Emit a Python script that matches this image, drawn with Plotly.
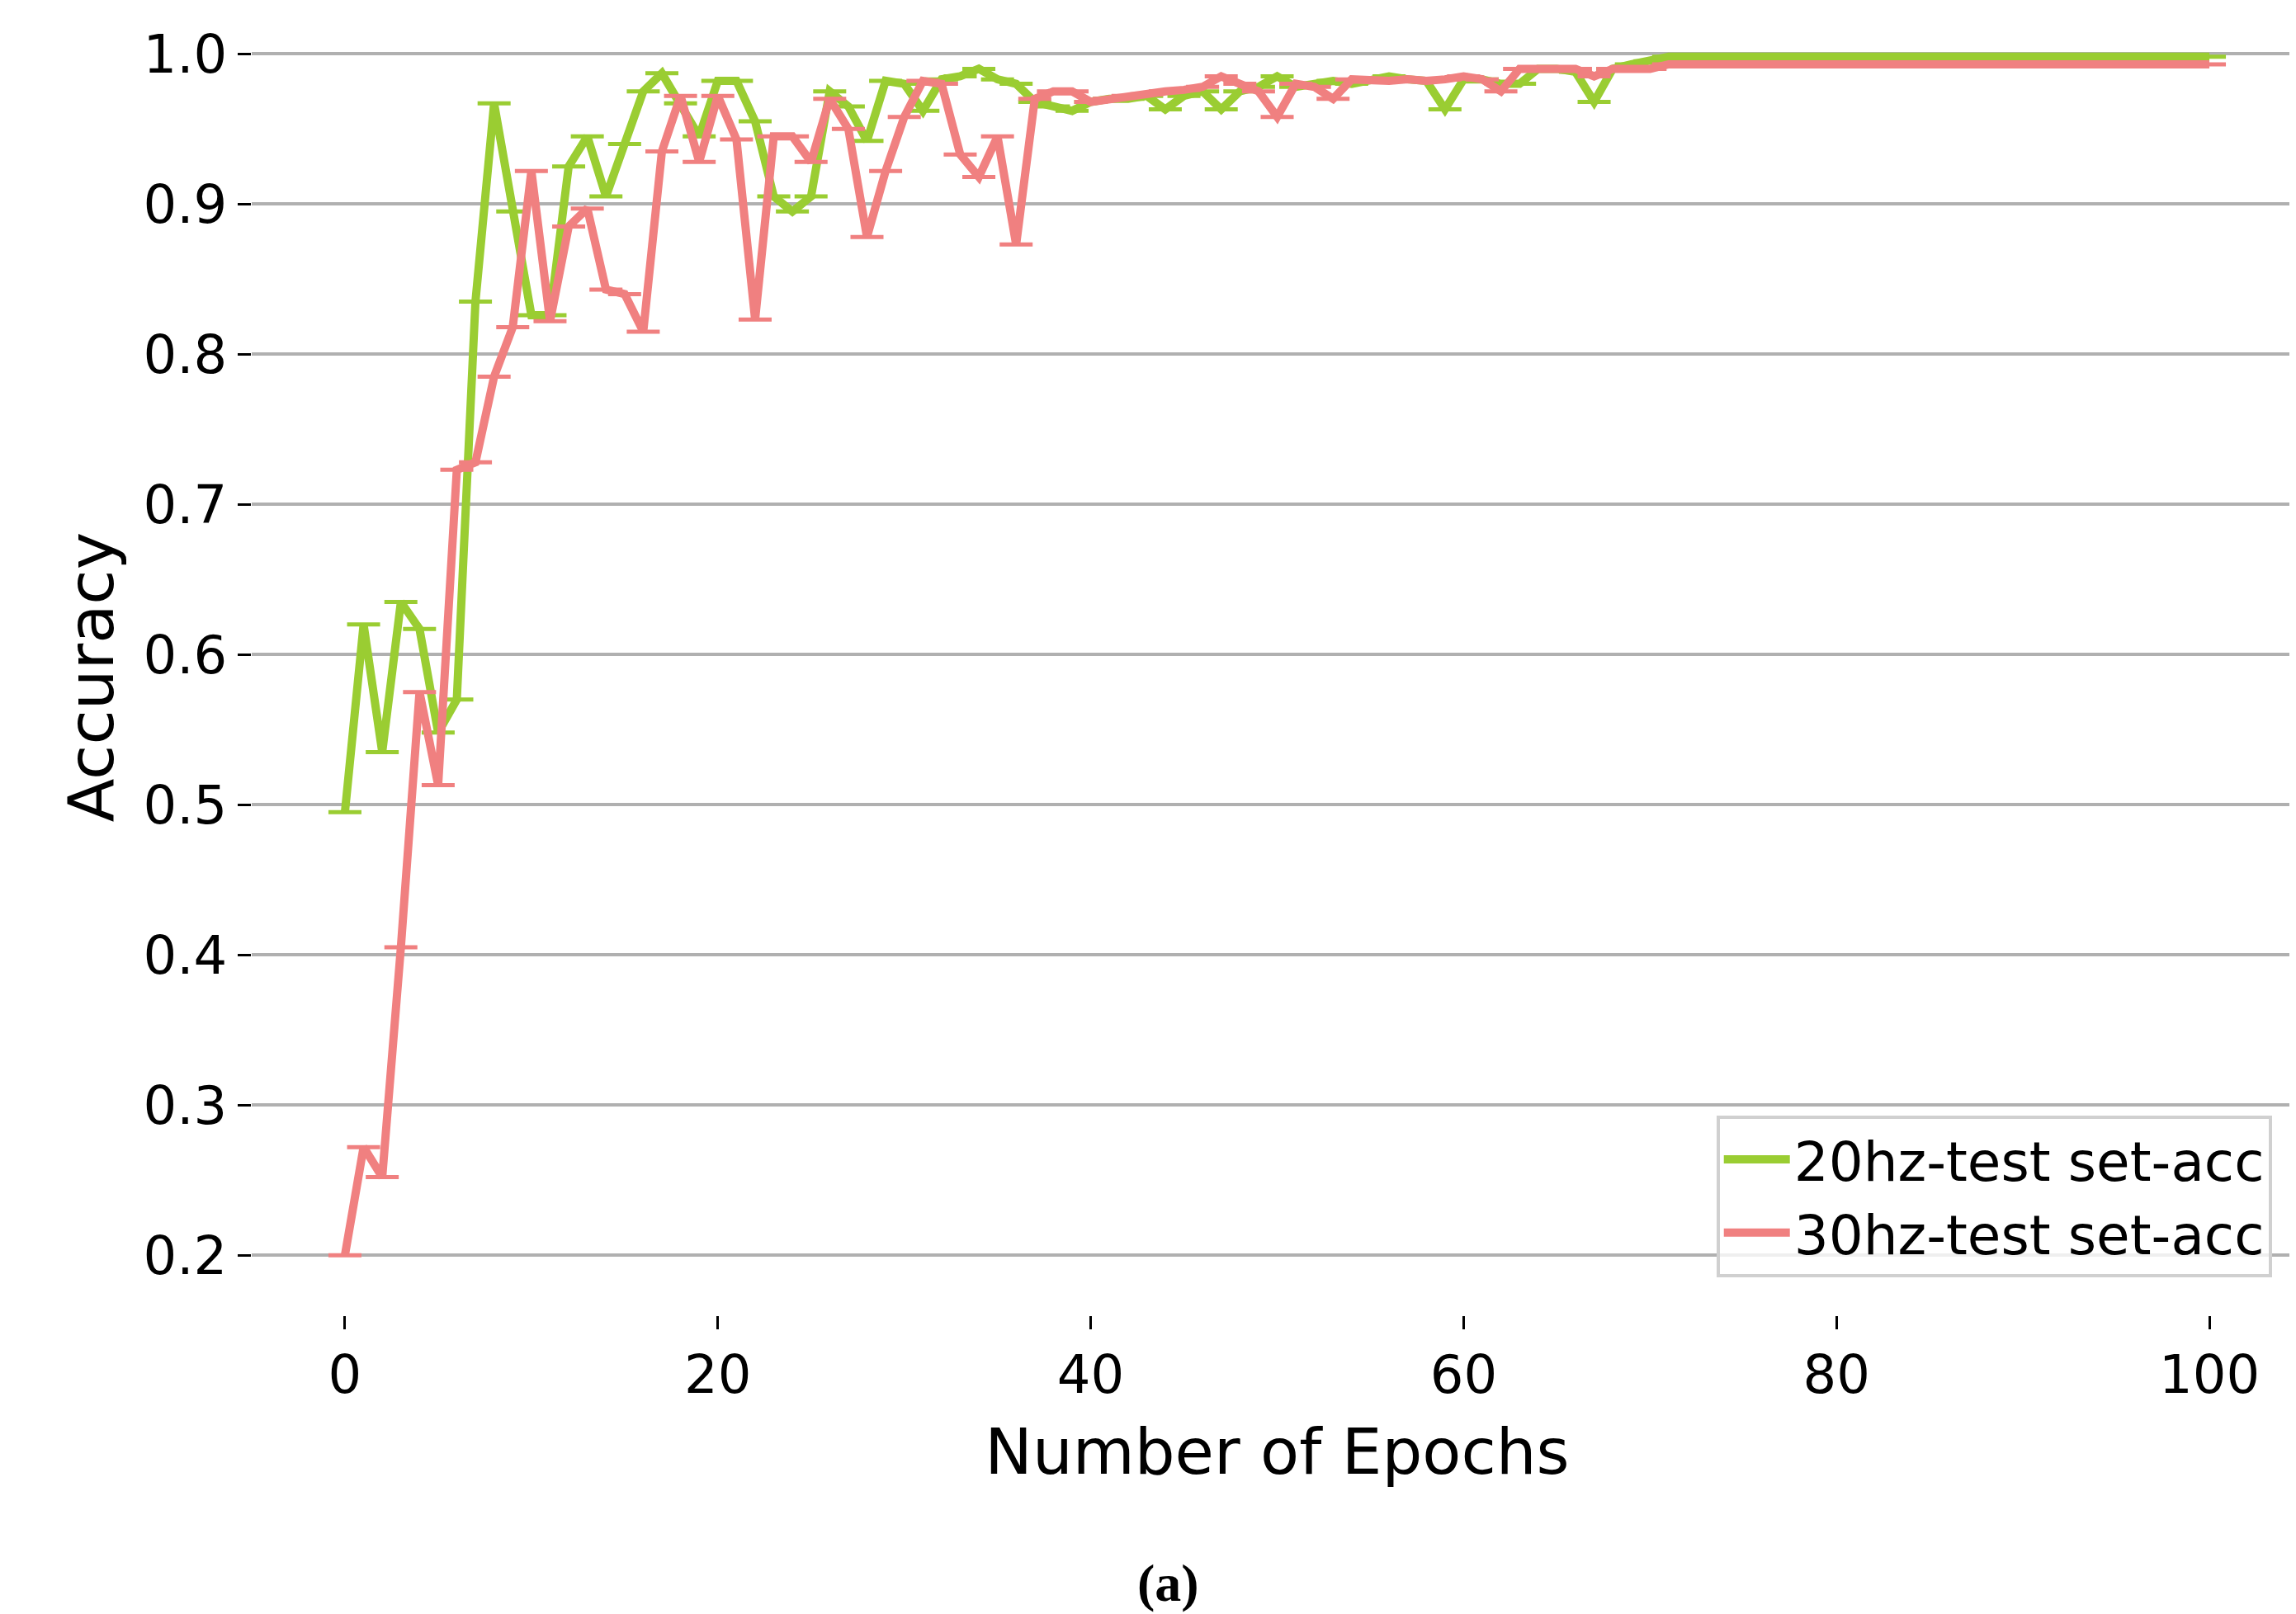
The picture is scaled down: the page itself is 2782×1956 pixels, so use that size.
import plotly.graph_objects as go

epochs = list(range(101))

acc_20hz = [0.495, 0.62, 0.535, 0.635, 0.617, 0.548, 0.57, 0.835, 0.967, 0.895,
            0.826, 0.826, 0.925, 0.945, 0.905, 0.94, 0.975, 0.987, 0.967, 0.945,
            0.982, 0.982, 0.955, 0.905, 0.895, 0.905, 0.975, 0.965, 0.942, 0.982,
            0.98, 0.962, 0.983, 0.985, 0.99, 0.983, 0.98, 0.968, 0.965, 0.962,
            0.968, 0.97, 0.97, 0.972, 0.963, 0.972, 0.975, 0.963, 0.975, 0.978,
            0.985, 0.978, 0.98, 0.982, 0.98, 0.983, 0.985, 0.983, 0.982, 0.963,
            0.983, 0.983, 0.98, 0.98, 0.99, 0.99, 0.988, 0.968, 0.99, 0.993,
            0.995, 0.998, 0.998, 0.998, 0.998, 0.998, 0.998, 0.998, 0.998, 0.998,
            0.998, 0.998, 0.998, 0.998, 0.998, 0.998, 0.998, 0.998, 0.998, 0.998,
            0.998, 0.998, 0.998, 0.998, 0.998, 0.998, 0.998, 0.998, 0.998, 0.998,
            0.998]

acc_30hz = [0.2, 0.272, 0.252, 0.405, 0.575, 0.513, 0.723, 0.728, 0.785, 0.818,
            0.922, 0.822, 0.885, 0.897, 0.843, 0.84, 0.815, 0.935, 0.972, 0.928,
            0.972, 0.943, 0.823, 0.945, 0.945, 0.928, 0.97, 0.95, 0.878, 0.922,
            0.958, 0.982, 0.98, 0.933, 0.918, 0.945, 0.873, 0.97, 0.975, 0.975,
            0.968, 0.97, 0.972, 0.973, 0.975, 0.976, 0.978, 0.985, 0.98, 0.975,
            0.958, 0.98, 0.978, 0.97, 0.983, 0.982, 0.982, 0.983, 0.982, 0.983,
            0.985, 0.983, 0.975, 0.99, 0.99, 0.99, 0.99, 0.985, 0.99, 0.99,
            0.99, 0.993, 0.993, 0.993, 0.993, 0.993, 0.993, 0.993, 0.993, 0.993,
            0.993, 0.993, 0.993, 0.993, 0.993, 0.993, 0.993, 0.993, 0.993, 0.993,
            0.993, 0.993, 0.993, 0.993, 0.993, 0.993, 0.993, 0.993, 0.993, 0.993,
            0.993]

series = [
    ("20hz-test set-acc", acc_20hz, "#9ACD32"),
    ("30hz-test set-acc", acc_30hz, "#F08080"),
]

FONT = "DejaVu Sans"

fig = go.Figure()
for name, vals, color in series:
    fig.add_trace(go.Scatter(
        x=epochs, y=vals, name=name, mode="lines",
        line=dict(color=color, width=10),
        error_y=dict(type="constant", value=0, color=color, thickness=5, width=20),
    ))

fig.update_layout(
    width=2782, height=1956,
    margin=dict(l=297, r=0, t=39, b=370),
    paper_bgcolor="white", plot_bgcolor="white",
    font=dict(family=FONT, size=64, color="black"),
    legend=dict(
        x=0.985, y=0.03, xanchor="right", yanchor="bottom",
        bgcolor="rgba(255,255,255,0.8)", bordercolor="#d0d0d0", borderwidth=4,
        font=dict(size=66), itemwidth=80,
    ),
    annotations=[dict(
        text="<b>(a)</b>", xref="paper", yref="paper", x=0.447, y=-0.21,
        yanchor="middle", showarrow=False,
        font=dict(family="Liberation Serif", size=64),
    )],
)
fig.update_xaxes(
    range=[-5, 105], tickvals=[0, 20, 40, 60, 80, 100],
    showgrid=False, zeroline=False, showline=False,
    ticks="outside", ticklen=16, tickwidth=3, tickcolor="black",
    title=dict(text="Number of Epochs", standoff=30),
)
fig.update_yaxes(
    range=[0.16, 1.01], tickvals=[0.2, 0.3, 0.4, 0.5, 0.6, 0.7, 0.8, 0.9, 1.0],
    tickformat=".1f", showgrid=True, gridcolor="#b0b0b0", gridwidth=4,
    zeroline=False, showline=False,
    ticks="outside", ticklen=16, tickwidth=3, tickcolor="black",
    title=dict(text="Accuracy", standoff=10),
)

fig.write_html("out.html")
